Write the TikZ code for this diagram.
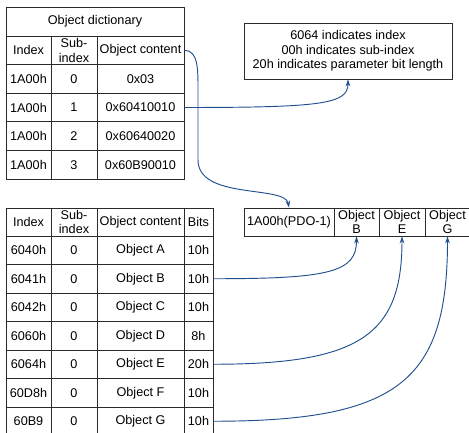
\documentclass[tikz,border=0pt]{standalone}
\usepackage{fontspec}
\setmainfont{Liberation Sans}
\usepackage{xcolor}
\usepackage{tikz}
\usetikzlibrary{arrows.meta,calc}
\definecolor{linkblue}{HTML}{22508F}
\definecolor{gridline}{HTML}{2A2A2A}

\begin{document}
\begin{tikzpicture}[x=0.03cm, y=-0.03cm,
  cell/.style={draw=gridline, line width=0.65pt, inner sep=0pt, align=center,
    font=\fontsize{10.8}{12.3}\selectfont},
  link/.style={draw=linkblue, line width=0.8pt, -{Stealth[length=6pt,width=4pt]}}]
  \def\px{0.03cm}
  \useasboundingbox (0,0) rectangle (469,433);
  % object dictionary (top table), columns 6-51-97-184
  \node[cell, minimum width=178*\px, minimum height=29*\px] (dtitle) at (95,21.5) {Object dictionary};
  \node[cell, minimum width=45*\px, minimum height=28.6*\px] (dhidx) at (28.5,50.3) {Index};
  \node[cell, minimum width=46*\px, minimum height=28.6*\px] (dhsub) at (74,50.3) {Sub-\\index};
  \node[cell, minimum width=87*\px, minimum height=28.6*\px] (dhval) at (140.5,50.3) {Object content};
  \foreach \i/\sub/\val in {1/0/0x03, 2/1/0x60410010, 3/2/0x60640020, 4/3/0x60B90010} {
    \pgfmathsetmacro\y{64.6+(\i-0.5)*28.6}
    \node[cell, minimum width=45*\px, minimum height=28.6*\px] (didx\i) at (28.5,\y) {1A00h};
    \node[cell, minimum width=46*\px, minimum height=28.6*\px] (dsub\i) at (74,\y) {\sub};
    \node[cell, minimum width=87*\px, minimum height=28.6*\px] (dval\i) at (140.5,\y) {\val};
  }
  % note box
  \node[cell, minimum width=208*\px, minimum height=56*\px] (note) at (348,51)
    {6064 indicates index\\00h indicates sub-index\\20h indicates parameter bit length};
  % mapped objects (bottom table), columns 6-51-97-184-213
  \node[cell, minimum width=45*\px, minimum height=28*\px] (bhidx) at (28.5,222) {Index};
  \node[cell, minimum width=46*\px, minimum height=28*\px] (bhsub) at (74,222) {Sub-\\index};
  \node[cell, minimum width=87*\px, minimum height=28*\px] (bhobj) at (140.5,222) {Object content};
  \node[cell, minimum width=29*\px, minimum height=28*\px] (bhbits) at (198.5,222) {Bits};
  \foreach \i/\idx/\obj/\bits in {1/6040h/A/10h, 2/6041h/B/10h, 3/6042h/C/10h, 4/6060h/D/8h,
      5/6064h/E/20h, 6/60D8h/F/10h, 7/60B9/G/10h} {
    \pgfmathsetmacro\y{236+(\i-0.5)*28.5}
    \node[cell, minimum width=45*\px, minimum height=28.5*\px] (bidx\i) at (28.5,\y) {\idx};
    \node[cell, minimum width=46*\px, minimum height=28.5*\px] (bsub\i) at (74,\y) {0};
    \node[cell, minimum width=87*\px, minimum height=28.5*\px] (bobj\i) at (140.5,\y) {Object \obj};
    \node[cell, minimum width=29*\px, minimum height=28.5*\px] (bbits\i) at (198.5,\y) {\bits};
  }
  % PDO row
  \node[cell, minimum width=90*\px, minimum height=28*\px] (pdo) at (289,222) {1A00h(PDO-1)};
  \node[cell, minimum width=45*\px, minimum height=28*\px] (objB) at (356.5,222) {Object\\B};
  \node[cell, minimum width=46*\px, minimum height=28*\px] (objE) at (402,222) {Object\\E};
  \node[cell, minimum width=45*\px, minimum height=28*\px] (objG) at (447.5,222) {Object\\G};
  % connectors
  \draw[link] (dhval.east) .. controls +(14,0) and +(0,-20) .. (198,90) -- (198,160)
    .. controls (198,200) and (285,185) .. (pdo.north);
  \draw[link] (dval2.east) .. controls (322,107.5) and (348,104) .. (note.south);
  \draw[link] (bbits2.east) .. controls (330,278.75) and (356.5,272) .. (objB.south);
  \draw[link] (bbits5.east) .. controls (360,364.25) and (402,335) .. (objE.south);
  \draw[link] (bbits7.east) .. controls (400,421.25) and (447.5,380) .. (objG.south);
\end{tikzpicture}
\end{document}
